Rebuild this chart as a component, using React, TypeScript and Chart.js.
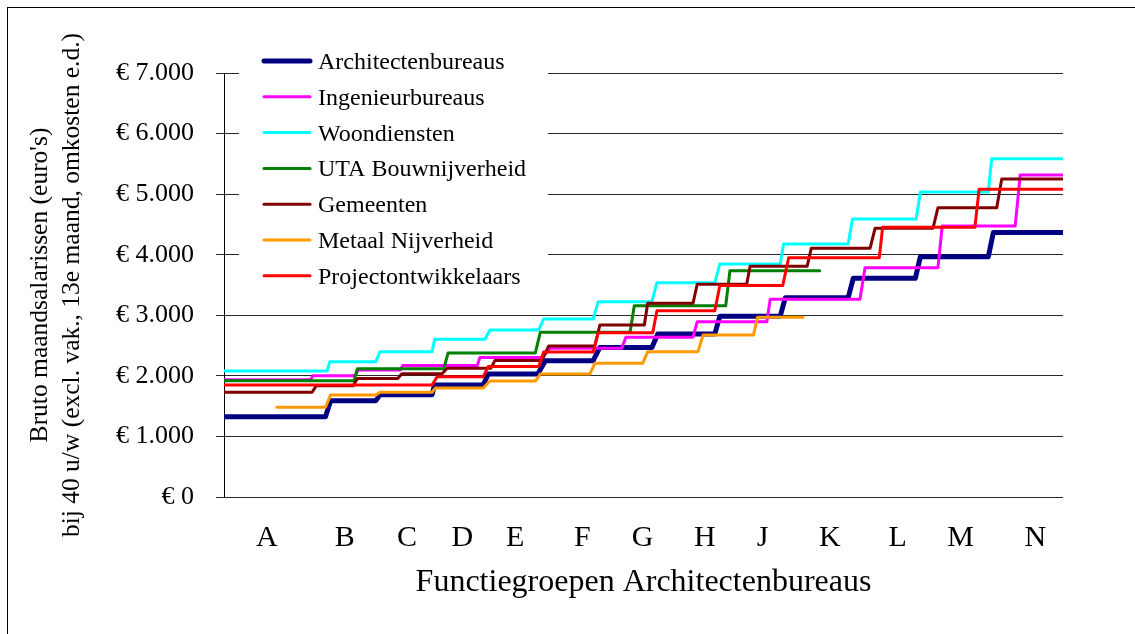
import React, { useEffect, useRef } from "react";
import { Chart, registerables } from "chart.js";

Chart.register(...registerables);

// One salary step: [from, to, monthly amount in euro] along the functiegroep axis (0–100).
type Step = [number, number, number];

const SERIF = "'Liberation Serif', 'Times New Roman', Times, serif";

const groupLabels = ["A", "B", "C", "D", "E", "F", "G", "H", "J", "K", "L", "M", "N"];
const groupPositions = [5.1, 14.4, 21.8, 28.4, 34.7, 42.7, 49.9, 57.3, 64.2, 72.2, 80.3, 87.8, 96.7];

const yTickValues = [0, 1000, 2000, 3000, 4000, 5000, 6000, 7000];

const architectenbureaus: Step[] = [
  [0, 12.1, 1325],
  [12.7, 18.1, 1590],
  [18.6, 24.8, 1690],
  [25.1, 30.9, 1849],
  [31.5, 37.4, 2030],
  [38.3, 44.0, 2250],
  [44.8, 51.0, 2470],
  [51.7, 58.5, 2690],
  [59.1, 66.3, 2985],
  [66.9, 74.4, 3290],
  [75.0, 82.4, 3610],
  [83.0, 91.1, 3968],
  [91.7, 99.9, 4365],
];

const ingenieurbureaus: Step[] = [
  [0, 10.3, 1935],
  [10.6, 15.6, 2000],
  [16.0, 21.0, 2095],
  [21.3, 30.2, 2172],
  [30.5, 37.9, 2303],
  [38.9, 47.4, 2455],
  [47.9, 55.9, 2636],
  [56.4, 64.7, 2894],
  [65.1, 75.8, 3264],
  [76.4, 85.1, 3786],
  [85.6, 94.3, 4474],
  [94.9, 99.9, 5316],
];

const woondiensten: Step[] = [
  [0, 12.3, 2080],
  [12.6, 18.1, 2234],
  [18.6, 24.8, 2399],
  [25.1, 31.1, 2603],
  [31.7, 37.5, 2757],
  [38.1, 44.0, 2939],
  [44.6, 51.0, 3225],
  [51.6, 58.5, 3538],
  [59.1, 66.3, 3847],
  [66.7, 74.4, 4177],
  [74.9, 82.5, 4590],
  [83.0, 91.1, 5036],
  [91.5, 99.9, 5586],
];

const utaBouwnijverheid: Step[] = [
  [0, 15.5, 1918],
  [15.9, 26.2, 2118],
  [26.7, 37.1, 2377],
  [37.7, 48.4, 2719],
  [48.9, 59.8, 3158],
  [60.3, 71.0, 3735],
];

const gemeenten: Step[] = [
  [0, 10.5, 1730],
  [11.0, 15.4, 1838],
  [15.9, 20.7, 1955],
  [21.2, 26.0, 2035],
  [26.6, 31.8, 2124],
  [32.3, 37.9, 2255],
  [38.7, 44.2, 2493],
  [44.8, 50.1, 2840],
  [50.5, 55.9, 3198],
  [56.4, 62.3, 3512],
  [62.7, 69.5, 3809],
  [70.0, 77.0, 4105],
  [77.6, 84.5, 4436],
  [85.1, 92.1, 4777],
  [92.7, 99.9, 5250],
];

const metaalNijverheid: Step[] = [
  [6.3, 12.1, 1481],
  [12.7, 18.1, 1685],
  [18.6, 24.8, 1730],
  [25.2, 30.9, 1800],
  [31.7, 37.1, 1915],
  [37.7, 43.6, 2030],
  [44.2, 49.9, 2207],
  [50.5, 56.5, 2399],
  [57.1, 63.1, 2674],
  [63.6, 69.0, 2967],
];

const projectontwikkelaars: Step[] = [
  [0, 24.8, 1849],
  [25.4, 30.9, 1986],
  [31.5, 37.5, 2155],
  [38.1, 44.0, 2392],
  [44.6, 51.1, 2713],
  [51.6, 58.5, 3076],
  [59.1, 66.6, 3492],
  [67.3, 78.1, 3950],
  [78.5, 89.5, 4452],
  [90.0, 99.9, 5080],
];

const seriesNames = [
  "Architectenbureaus",
  "Ingenieurbureaus",
  "Woondiensten",
  "UTA Bouwnijverheid",
  "Gemeenten",
  "Metaal Nijverheid",
  "Projectontwikkelaars",
];
const seriesSteps = [
  architectenbureaus,
  ingenieurbureaus,
  woondiensten,
  utaBouwnijverheid,
  gemeenten,
  metaalNijverheid,
  projectontwikkelaars,
];
const seriesColors = ["#000080", "#FF00FF", "#00FFFF", "#008000", "#800000", "#FF9900", "#FF0000"];
const seriesWidths = [5, 3, 3, 3, 3, 3, 3];

const yTitle = ["Bruto maandsalarissen (euro's)", "bij 40 u/w (excl. vak., 13e maand, omkosten e.d.)"];
const xTitle = "Functiegroepen Architectenbureaus";

const euro = (v: number) => "€ " + String(Math.round(v)).replace(/\B(?=(\d{3})+(?!\d))/g, ".");

const toPoints = (steps: Step[]) =>
  steps.flatMap(([from, to, value]) => [
    { x: from, y: value },
    { x: to, y: value },
  ]);

// White page with the outer chart frame (its right and bottom edges fall outside the page).
const framePlugin = {
  id: "frame",
  beforeDraw(chart: any) {
    const { ctx, width, height } = chart;
    ctx.save();
    ctx.fillStyle = "#ffffff";
    ctx.fillRect(0, 0, width, height);
    ctx.strokeStyle = "#000000";
    ctx.lineWidth = 1;
    ctx.strokeRect(7.5, 7.5, width + 40, height + 40);
    ctx.restore();
  },
};

// Legend box placed inside the plot area, top-left.
const innerLegendPlugin = {
  id: "innerLegend",
  afterDraw(chart: any) {
    const { ctx, chartArea } = chart;
    const boxLeft = chartArea.left + 15;
    const boxTop = chartArea.top - 32;
    ctx.save();
    ctx.fillStyle = "#ffffff";
    ctx.fillRect(boxLeft, boxTop, 309, 251);
    chart.data.datasets.forEach((ds: any, i: number) => {
      const y = boxTop + 20 + i * 35.8;
      ctx.strokeStyle = ds.borderColor;
      ctx.lineWidth = ds.borderWidth;
      ctx.lineCap = "round";
      ctx.beginPath();
      ctx.moveTo(boxLeft + 25, y);
      ctx.lineTo(boxLeft + 71, y);
      ctx.stroke();
      ctx.fillStyle = "#000000";
      ctx.font = `24px ${SERIF}`;
      ctx.textAlign = "left";
      ctx.textBaseline = "alphabetic";
      ctx.fillText(ds.label, boxLeft + 79, y + 8);
    });
    ctx.restore();
  },
};

export default function App() {
  const canvasRef = useRef<HTMLCanvasElement>(null);

  useEffect(() => {
    document.body.style.margin = "0";
    const canvas = canvasRef.current;
    if (!canvas) return;

    const datasets = seriesNames.map((name, i) => ({
      label: name,
      data: toPoints(seriesSteps[i]),
      borderColor: seriesColors[i],
      backgroundColor: seriesColors[i],
      borderWidth: seriesWidths[i],
      borderCapStyle: "round" as const,
      borderJoinStyle: "round" as const,
      pointRadius: 0,
      fill: false,
      tension: 0,
      order: seriesNames.length - 1 - i,
    }));

    const chart = new Chart(canvas, {
      type: "line",
      data: { datasets },
      plugins: [framePlugin, innerLegendPlugin],
      options: {
        responsive: false,
        animation: false,
        parsing: false,
        layout: { padding: { left: 0, top: 73, right: 72, bottom: 0 } },
        plugins: {
          legend: { display: false },
          tooltip: { enabled: false },
        },
        scales: {
          x: {
            type: "linear",
            min: 0,
            max: 100,
            grid: { display: false, drawTicks: false },
            border: { display: false },
            afterBuildTicks: (scale: any) => {
              scale.ticks = groupPositions.map((v) => ({ value: v }));
            },
            afterFit: (scale: any) => {
              scale.height = 137;
            },
            ticks: {
              autoSkip: false,
              maxRotation: 0,
              minRotation: 0,
              padding: 23,
              color: "#000000",
              font: { family: SERIF, size: 30 },
              callback: (_v: any, i: number) => groupLabels[i],
            },
            title: {
              display: true,
              text: xTitle,
              color: "#000000",
              font: { family: SERIF, size: 32 },
              padding: { top: 0, bottom: 32 },
            },
          },
          y: {
            type: "linear",
            min: 0,
            max: 7000,
            afterBuildTicks: (scale: any) => {
              scale.ticks = yTickValues.map((v) => ({ value: v }));
            },
            afterFit: (scale: any) => {
              scale.width = 224;
            },
            grid: {
              color: "#2a2a2a",
              tickColor: "#2a2a2a",
              tickLength: 8,
              drawTicks: true,
              lineWidth: 1,
            },
            border: { display: true, color: "#000000", width: 1 },
            ticks: {
              padding: 22,
              color: "#000000",
              font: { family: SERIF, size: 26 },
              callback: (v: any) => euro(Number(v)),
            },
            title: {
              display: true,
              text: yTitle,
              color: "#000000",
              font: { family: SERIF, size: 25.5, lineHeight: 1.25 },
              padding: { top: 24, bottom: 0 },
            },
          },
        },
      } as any,
    });

    return () => chart.destroy();
  }, []);

  return (
    <div style={{ position: "absolute", left: 0, top: 0, width: 1135, height: 634, background: "#ffffff" }}>
      <canvas ref={canvasRef} width={1135} height={634} style={{ display: "block" }} />
    </div>
  );
}
